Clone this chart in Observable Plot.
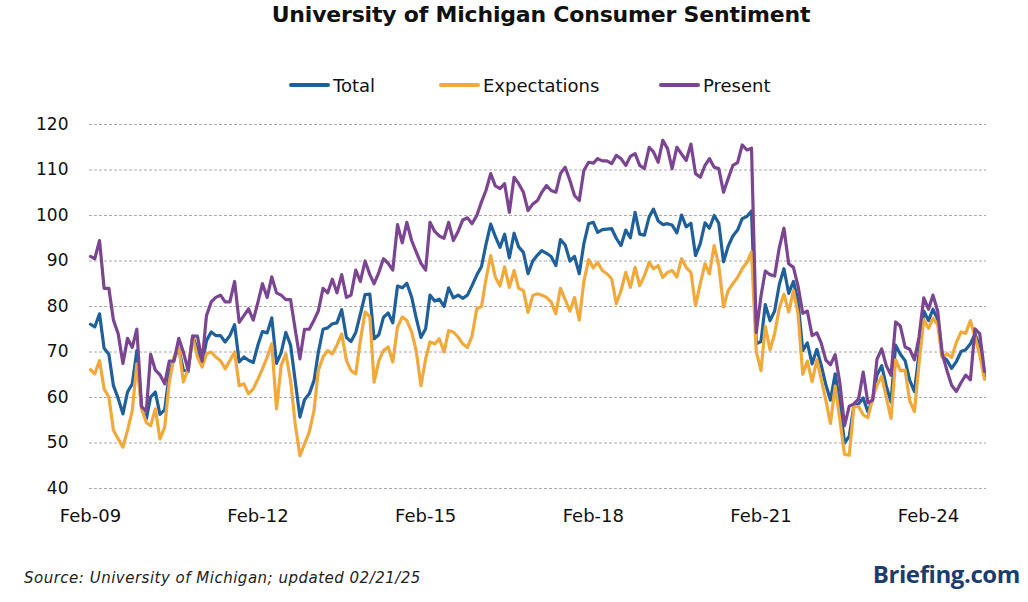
<!DOCTYPE html>
<html>
<head>
<meta charset="utf-8">
<script src="https://cdn.jsdelivr.net/npm/d3@7"></script>
<script src="https://cdn.jsdelivr.net/npm/@observablehq/plot@0.6"></script>
<style>
  html, body { margin: 0; padding: 0; background: #fff; }
  #wrap { position: relative; width: 1028px; height: 602px; overflow: hidden; background: #fff; font-family: "DejaVu Sans", sans-serif; color: #111; }
  #title { position: absolute; left: 0; width: 1082px; top: 2px; text-align: center; font-weight: bold; font-size: 22px; letter-spacing: -0.2px; }
  .leg { position: absolute; top: 73px; height: 24px; display: flex; align-items: center; font-size: 18px; }
  .leg .sw { width: 41px; height: 4px; border-radius: 2px; margin-right: 3px; }
  #chart { position: absolute; left: 0; top: 100px; }
  #source { position: absolute; left: 24px; top: 569px; font-size: 15px; font-style: italic; color: #222; letter-spacing: 0.5px; }
  #brand { position: absolute; right: 8px; top: 557px; font-family: "Open Sans", sans-serif; font-size: 24px; font-weight: bold; color: #1b3d6e; letter-spacing: -0.4px; }
</style>
</head>
<body>
<div id="wrap">
  <div id="title">University of Michigan Consumer Sentiment</div>
  <div id="legend"></div>
  <div id="chart"></div>
  <div id="source">Source: University of Michigan; updated 02/21/25</div>
  <div id="brand">Briefing.com</div>
</div>
<script>
// ---- data (monthly positions on the chart's axis, Feb-09 .. Feb-25) ----
const seriesNames = ["Total", "Expectations", "Present"];
const seriesColors = ["#1f5f9a", "#f0a93a", "#7b4592"];

const total = [
  76.1, 75.5, 78.4, 70.8, 69.5, 62.6, 59.8, 56.4, 61.2, 63.0,
  70.3, 57.6, 55.3, 60.1, 61.2, 56.3, 57.3, 65.1, 68.7, 70.8,
  66.0, 65.7, 73.5, 70.6, 67.4, 72.5, 74.4, 73.6, 73.6, 72.2,
  73.6, 76.0, 67.8, 68.9, 68.2, 67.7, 71.6, 74.5, 74.2, 77.5,
  67.5, 69.8, 74.3, 71.5, 63.7, 55.7, 59.5, 60.8, 63.7, 69.9,
  75.0, 75.3, 76.2, 76.4, 79.3, 73.2, 72.3, 74.3, 78.3, 82.6,
  82.7, 72.9, 73.8, 77.6, 78.6, 76.4, 84.5, 84.1, 85.1, 82.1,
  77.5, 73.2, 75.1, 82.5, 81.2, 81.6, 80.0, 84.1, 81.9, 82.5,
  81.8, 82.5, 84.6, 86.9, 88.8, 93.6, 98.1, 95.4, 93.0, 95.9,
  90.7, 96.1, 93.1, 91.9, 87.2, 90.0, 91.3, 92.3, 91.7, 91.0,
  89.0, 94.7, 93.5, 90.0, 91.0, 87.2, 93.8, 98.2, 98.5, 96.3,
  96.9, 97.0, 97.1, 95.0, 93.4, 96.8, 95.1, 100.7, 95.9, 95.7,
  99.7, 101.4, 98.8, 98.0, 98.2, 97.9, 96.2, 100.1, 97.5, 98.3,
  91.2, 93.8, 98.4, 97.2, 100.0, 98.3, 89.8, 93.2, 95.5, 96.8,
  99.3, 99.8, 101.0, 71.8, 72.3, 80.4, 76.9, 79.0, 84.9, 88.3,
  82.9, 85.5, 81.2, 70.3, 72.0, 67.4, 70.6, 67.2, 62.8, 59.4,
  65.2, 58.4, 50.0, 51.5, 58.2, 58.6, 59.9, 56.8, 59.7, 64.9,
  67.0, 62.5, 59.0, 71.5, 69.5, 68.1, 63.8, 61.3, 69.7, 79.0,
  76.9, 79.4, 77.2, 69.1, 68.2, 66.4, 67.9, 70.1, 70.5, 71.8,
  74.0, 71.1, 64.7
];

const expectations = [
  66.1, 65.2, 68.1, 61.9, 60.1, 52.8, 50.9, 49.1, 52.8, 57.1,
  67.4, 57.5, 54.5, 53.8, 57.5, 50.9, 53.5, 63.4, 68.9, 71.1,
  63.4, 66.3, 73.3, 68.9, 66.7, 69.6, 70.0, 68.9, 68.1, 66.3,
  68.1, 70.0, 62.6, 63.0, 60.8, 61.9, 64.1, 66.3, 68.9, 71.8,
  57.5, 67.0, 69.6, 63.7, 54.2, 47.2, 49.8, 52.4, 57.1, 65.9,
  68.9, 70.3, 69.6, 71.5, 74.0, 68.1, 65.9, 65.2, 72.5, 78.8,
  77.7, 63.4, 68.1, 70.3, 71.1, 67.8, 75.5, 77.7, 76.9, 74.4,
  70.3, 62.6, 68.5, 72.2, 71.8, 72.9, 70.0, 74.7, 74.4, 73.3,
  71.8, 71.0, 73.5, 79.5, 80.0, 86.0, 91.2, 86.5, 84.5, 88.7,
  84.2, 87.9, 84.0, 83.5, 78.7, 82.4, 82.8, 82.5, 82.0, 81.0,
  78.4, 84.0, 81.5, 79.0, 82.0, 77.0, 85.5, 90.3, 88.5, 89.7,
  87.9, 87.2, 86.1, 80.6, 83.5, 87.5, 84.2, 88.6, 84.6, 86.8,
  89.7, 88.3, 89.0, 86.4, 87.5, 87.9, 86.5, 90.5, 88.6, 87.5,
  80.2, 85.0, 89.4, 87.2, 93.4, 89.0, 79.9, 83.5, 85.0, 86.4,
  88.3, 89.7, 92.0, 70.1, 65.9, 75.6, 70.5, 74.0, 79.7, 82.7,
  78.8, 83.5, 78.4, 65.1, 68.0, 63.5, 68.3, 64.1, 59.4, 54.3,
  62.5, 55.2, 47.5, 47.3, 58.0, 58.0, 56.2, 55.6, 59.9, 62.7,
  64.7, 60.0, 55.4, 68.3, 65.9, 66.0, 59.3, 56.9, 67.4, 77.1,
  75.2, 77.4, 76.0, 68.8, 69.6, 68.8, 72.1, 74.4, 74.1, 76.9,
  73.3, 69.3, 64.0
];

const present = [
  91.0, 90.5, 94.5, 84.0, 84.0, 77.0, 74.0, 67.5, 73.0, 71.0,
  75.0, 58.0, 57.0, 69.5, 66.0, 65.0, 63.0, 68.0, 68.0, 73.0,
  70.0, 66.0, 73.5, 73.5, 68.0, 78.0, 81.0, 82.0, 82.5, 81.0,
  81.0, 85.5, 76.5, 78.0, 79.5, 77.0, 81.0, 85.0, 82.0, 86.5,
  83.0, 82.5, 81.5, 81.5, 75.0, 68.5, 75.0, 75.0, 77.0, 79.0,
  84.0, 83.0, 86.0, 83.0, 87.0, 82.0, 82.5, 88.0, 85.5, 90.0,
  87.0, 85.0, 87.5, 90.5, 89.5, 88.0, 98.0, 94.0, 98.5, 94.5,
  92.0, 89.5, 88.0, 98.5, 96.5, 95.5, 95.0, 98.5, 94.5, 96.5,
  99.0, 99.5, 98.2, 100.0, 103.0, 105.5, 109.2, 106.5, 105.9, 107.0,
  100.7, 108.4, 107.0, 105.1, 101.1, 102.5, 103.3, 105.1, 106.6, 105.5,
  105.1, 109.2, 110.6, 107.7, 104.4, 103.3, 109.9, 111.7, 111.5, 112.5,
  112.0, 112.0, 111.4, 113.2, 112.5, 111.0, 113.0, 113.6, 111.0, 110.3,
  115.0, 114.0, 111.7, 116.5, 114.7, 110.3, 115.0, 113.5, 112.1, 115.7,
  109.2, 108.4, 111.0, 112.5, 110.6, 110.3, 105.1, 108.1, 111.0, 111.6,
  115.5, 114.4, 114.8, 74.3, 82.3, 87.8, 87.0, 86.7, 93.0, 97.2,
  89.4, 88.6, 84.5, 78.5, 79.0, 73.6, 74.2, 72.0, 68.2, 67.2,
  69.4, 63.3, 53.8, 58.1, 58.6, 59.7, 65.6, 58.8, 59.4, 68.4,
  70.7, 67.0, 64.9, 76.6, 75.7, 71.1, 70.6, 68.3, 73.3, 81.9,
  79.4, 82.5, 79.0, 69.6, 65.9, 62.7, 61.3, 63.3, 64.9, 63.9,
  75.1, 74.0, 65.7
];

const yTicks = [40, 50, 60, 70, 80, 90, 100, 110, 120];
const xTickYears = [2009, 2012, 2015, 2018, 2021, 2024];

// ---- build ----
const dates = d3.utcMonth.range(new Date(Date.UTC(2009, 1, 1)), new Date(Date.UTC(2025, 2, 1)));
const valuesBySeries = [total, expectations, present];
const rows = [];
seriesNames.forEach((name, k) => {
  valuesBySeries[k].forEach((v, i) => rows.push({date: dates[i], value: v, series: name}));
});
const xTicks = xTickYears.map(y => new Date(Date.UTC(y, 1, 1)));

const chart = Plot.plot({
  width: 1028,
  height: 428,
  marginLeft: 89,
  marginRight: 42,
  marginTop: 24,
  marginBottom: 40,
  style: {fontFamily: "'DejaVu Sans', sans-serif", fontSize: "18px", color: "#111", background: "transparent", overflow: "visible"},
  x: {type: "utc", domain: [dates[0], dates[dates.length - 1]], insetLeft: 1, insetRight: 2},
  y: {domain: [40, 120]},
  color: {domain: seriesNames, range: seriesColors},
  marks: [
    Plot.ruleY(yTicks, {stroke: "#a9a9a9", strokeDasharray: "3,2", strokeWidth: 1}),
    Plot.axisY({ticks: yTicks, tickSize: 0, tickPadding: 21, fontSize: 17, label: null}),
    Plot.axisX({ticks: xTicks, tickFormat: d3.utcFormat("%b-%y"), tickSize: 0, tickPadding: 21, fontSize: 18, label: null}),
    Plot.line(rows, {x: "date", y: "value", z: "series", stroke: "series", strokeWidth: 3.2, strokeLinejoin: "round", strokeLinecap: "round"})
  ]
});
document.getElementById("chart").appendChild(chart);

// ---- legend ----
const legendLeft = [289, 439, 659];
const legend = document.getElementById("legend");
seriesNames.forEach((name, k) => {
  const item = document.createElement("div");
  item.className = "leg";
  item.style.left = legendLeft[k] + "px";
  const sw = document.createElement("div");
  sw.className = "sw";
  sw.style.background = seriesColors[k];
  const tx = document.createElement("span");
  tx.textContent = name;
  item.appendChild(sw);
  item.appendChild(tx);
  legend.appendChild(item);
});
</script>
</body>
</html>
